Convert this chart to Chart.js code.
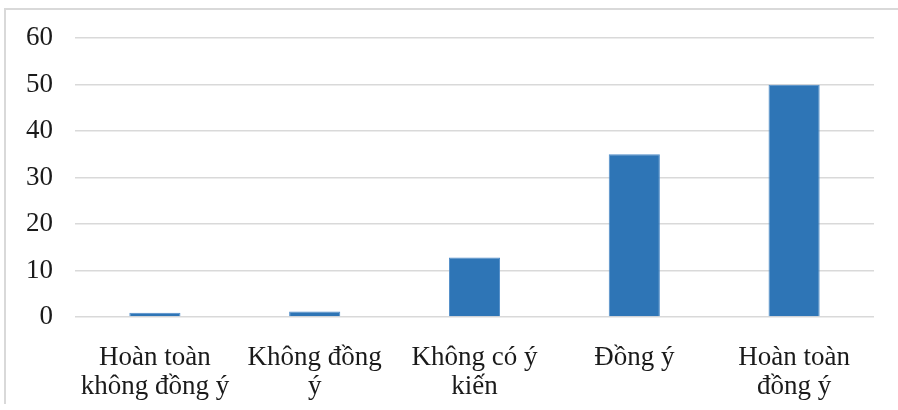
<!DOCTYPE html>
<html>
<head>
<meta charset="utf-8">
<script src="https://cdn.jsdelivr.net/npm/chart.js@4"></script>
<style>
html,body{margin:0;padding:0;background:#fff;overflow:hidden;}
#wrap{position:relative;width:898px;height:410px;overflow:hidden;}
#frame{position:absolute;left:4px;top:8px;width:1000px;height:396px;border-left:2px solid #d9d9d9;border-top:2px solid #d9d9d9;box-sizing:border-box;}
canvas{position:absolute;left:0;top:0;}
</style>
</head>
<body>
<div id="wrap">
<div id="frame"></div>
<canvas id="c" width="898" height="410"></canvas>
</div>
<script>
const categories = [
  ["Hoàn toàn", "không đồng ý"],
  ["Không đồng", "ý"],
  ["Không có ý", "kiến"],
  ["Đồng ý"],
  ["Hoàn toàn", "đồng ý"]
];
const values = [0.9, 1.2, 12.8, 35, 50];
const yMin = 0, yMax = 60, yStep = 10;

Chart.defaults.font.family = "'Liberation Serif', 'Times New Roman', serif";
Chart.defaults.color = "#1a1a1a";

new Chart(document.getElementById('c'), {
  type: 'bar',
  data: {
    labels: categories,
    datasets: [{
      data: values,
      backgroundColor: '#2e75b6',
      borderColor: '#4f8cc9',
      borderWidth: 1,
      barPercentage: 0.32,
      categoryPercentage: 1.0
    }]
  },
  options: {
    responsive: false,
    animation: false,
    devicePixelRatio: 1,
    layout: { padding: { top: 38, right: 24, bottom: 0, left: 0 } },
    plugins: { legend: { display: false }, tooltip: { enabled: false } },
    scales: {
      x: {
        grid: { display: false, drawTicks: false },
        border: { display: false },
        ticks: { font: { size: 27, lineHeight: 1.08 }, padding: 26, maxRotation: 0, autoSkip: false, color: '#1a1a1a' },
        afterFit: (s) => { s.height = 93; }
      },
      y: {
        min: yMin, max: yMax,
        grid: { color: '#d9d9d9', lineWidth: 1.5, drawTicks: false },
        border: { display: false },
        ticks: { stepSize: yStep, font: { size: 27 }, padding: 22, color: '#1a1a1a' },
        afterFit: (s) => { s.width = 75; }
      }
    }
  }
});
</script>
</body>
</html>
